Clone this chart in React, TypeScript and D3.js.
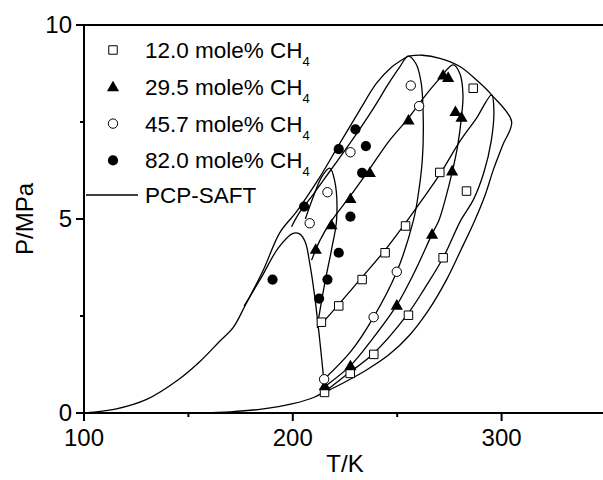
import React from "react";
import * as d3 from "d3";

// experimental points [T/K, P/MPa]
const mole120 = [
  [215.2, 0.53], [213.7, 2.34], [222.0, 2.76], [227.5, 1.02], [233.2, 3.44],
  [238.8, 1.51], [244.2, 4.13], [254.0, 4.82], [255.4, 2.52], [270.4, 6.2],
  [272.0, 4.0], [283.2, 5.72], [286.4, 8.37],
];
const mole295 = [
  [215.3, 0.7], [227.6, 1.22], [249.8, 2.78], [266.7, 4.61], [276.3, 6.24],
  [277.9, 7.77], [280.8, 7.62], [272.0, 8.71], [274.4, 8.65], [255.4, 7.55],
  [236.9, 6.2], [227.6, 5.53], [218.5, 4.85], [211.0, 4.22],
];
const mole457 = [
  [215.0, 0.87], [238.7, 2.47], [249.8, 3.64], [260.5, 7.91], [256.5, 8.44],
  [227.6, 6.72], [216.6, 5.69], [208.1, 4.89],
];
const mole820 = [
  [190.3, 3.44], [212.6, 2.95], [216.6, 3.44], [222.0, 4.13], [227.6, 5.06],
  [233.2, 6.19], [222.0, 6.8], [235.0, 6.88], [230.0, 7.31], [205.4, 5.32],
];

// PCP-SAFT curves
const curveOuterLeft = [
  [100, 0], [115, 0.1], [130, 0.35], [145, 0.85], [155.4, 1.32], [165, 1.85],
  [171.4, 2.2], [177, 2.75], [186, 3.7], [193.8, 4.65], [201.8, 5.19],
  [212, 6.0], [222.5, 6.95], [232, 7.8], [240.1, 8.5], [247, 8.9], [255.3, 9.2],
];
const curveOuterRight = [
  [255.3, 9.2], [262, 9.22], [270.4, 9.14], [280, 8.93], [288, 8.58],
  [295.2, 8.2], [304.8, 7.51], [300.5, 6.9], [296, 6.26], [292, 5.6],
  [287.2, 4.97], [280.5, 4.2], [273.6, 3.43], [265, 2.65], [256, 2.01],
  [246, 1.5], [235.3, 1.11], [225, 0.8], [215.5, 0.54],
];
const curveBottom = [
  [155, 0], [170, 0.03], [185, 0.1], [200, 0.24], [210, 0.4], [215.3, 0.55],
];
const curveThreePhase = [
  [176.7, 2.76], [185, 3.5], [193, 4.25], [200.1, 4.63], [203.4, 4.61],
  [206, 4.4], [208.1, 3.86], [210.5, 3.0], [212.9, 1.88], [215.3, 0.6],
];
const curveLobe = [
  [206, 5.0], [210, 5.6], [214, 6.1], [217.7, 6.31], [220, 6.0], [221, 5.0],
  [218.5, 4.2], [215.5, 3.4], [213.5, 2.8], [211.8, 2.25],
];
const curve457 = [
  [199.4, 4.8], [203, 5.15], [210, 5.65], [218, 6.25], [228, 7.0], [238, 7.8],
  [246, 8.5], [251, 8.9], [255.3, 9.2], [259, 9.0], [261.5, 8.5], [262.5, 7.5],
  [262, 6.5], [260, 5.6], [257.8, 4.97], [249.8, 3.64], [238.7, 2.47],
  [228, 1.6], [215, 0.87],
];
const curve295 = [
  [209, 3.94], [213, 4.45], [218.5, 4.95], [227.6, 5.6], [236.9, 6.3],
  [246, 7.0], [255.4, 7.6], [263, 8.15], [270, 8.6], [276.8, 8.97],
  [280, 8.75], [281.5, 8.2], [280.8, 7.64], [279, 6.9], [276.3, 6.2],
  [273, 5.5], [270, 4.97], [266.7, 4.61], [258, 3.6], [249.8, 2.78],
  [238, 1.9], [227.6, 1.22], [215.3, 0.68],
];
const curve120 = [
  [211.5, 2.2], [213.7, 2.3], [222, 2.8], [233.2, 3.5], [244.2, 4.2],
  [254, 4.9], [262, 5.5], [270.4, 6.15], [280, 7.0], [288, 7.6], [295.2, 8.2],
  [296.3, 7.8], [295, 7.0], [291.5, 6.2], [286.5, 5.5], [280.5, 4.97],
  [272, 4.0], [263, 3.2], [255, 2.55], [238, 1.5], [226, 1.0], [215.3, 0.55],
];
const curves = [
  curveOuterLeft, curveOuterRight, curveBottom, curveThreePhase,
  curveLobe, curve457, curve295, curve120,
];

const xTicks = [100, 200, 300];
const xMinor = [150, 250];
const yTicks = [0, 5, 10];
const yMinor = [2.5, 7.5];

const legend = ["12.0", "29.5", "45.7", "82.0"];

const font = "'Liberation Sans', Arial, sans-serif";

const x = d3.scaleLinear().domain([100, 350]).range([84, 606]);
const y = d3.scaleLinear().domain([0, 10]).range([413, 25]);

const line = d3
  .line<number[]>()
  .x((d) => x(d[0]))
  .y((d) => y(d[1]))
  .curve(d3.curveCatmullRom.alpha(0.5));

const squarePath = d3.symbol().type(d3.symbolSquare).size(72)()!;
const trianglePath = d3.symbol().type(d3.symbolTriangle).size(64)()!;

const Marker = ({ kind, cx, cy }: { kind: number; cx: number; cy: number }) => {
  if (kind === 0)
    return (
      <path d={squarePath} transform={`translate(${cx},${cy})`} fill="white" stroke="black" strokeWidth={1} />
    );
  if (kind === 1)
    return <path d={trianglePath} transform={`translate(${cx},${cy + 1})`} fill="black" />;
  if (kind === 2)
    return <circle cx={cx} cy={cy} r={4.7} fill="white" stroke="black" strokeWidth={1} />;
  return <circle cx={cx} cy={cy} r={5.1} fill="black" />;
};

export default function App() {
  const series = [mole120, mole295, mole457, mole820];
  return (
    <div style={{ position: "absolute", left: 0, top: 0 }}>
      <svg width={603} height={480} style={{ display: "block", background: "white" }}>
        {curves.map((c, i) => (
          <path key={i} d={line(c)!} fill="none" stroke="black" strokeWidth={1.3} />
        ))}

        {series.map((s, k) =>
          s.map((d, i) => <Marker key={`${k}-${i}`} kind={k} cx={x(d[0])} cy={y(d[1])} />)
        )}

        {/* frame */}
        <line x1={x(100)} x2={603} y1={y(10)} y2={y(10)} stroke="black" strokeWidth={2} />
        <line x1={x(100)} x2={603} y1={y(0)} y2={y(0)} stroke="black" strokeWidth={2} />
        <line x1={x(100)} x2={x(100)} y1={y(10)} y2={y(0)} stroke="black" strokeWidth={2} />

        {xTicks.map((t) => (
          <g key={t}>
            <line x1={x(t)} x2={x(t)} y1={y(0)} y2={y(0) + 8} stroke="black" strokeWidth={2} />
            <text x={x(t)} y={y(0) + 33} textAnchor="middle" fontFamily={font} fontSize={24}>
              {t}
            </text>
          </g>
        ))}
        {xMinor.map((t) => (
          <line key={t} x1={x(t)} x2={x(t)} y1={y(0)} y2={y(0) + 4} stroke="black" strokeWidth={2} />
        ))}
        {yTicks.map((t) => (
          <g key={t}>
            <line x1={x(100) - 8} x2={x(100)} y1={y(t)} y2={y(t)} stroke="black" strokeWidth={2} />
            <text x={x(100) - 12} y={y(t) + 8} textAnchor="end" fontFamily={font} fontSize={24}>
              {t}
            </text>
          </g>
        ))}
        {yMinor.map((t) => (
          <line key={t} x1={x(100) - 4} x2={x(100)} y1={y(t)} y2={y(t)} stroke="black" strokeWidth={2} />
        ))}

        <text x={x(225)} y={472} textAnchor="middle" fontFamily={font} fontSize={24}>
          T/K
        </text>
        <text
          transform={`translate(33,${y(5)}) rotate(-90)`}
          textAnchor="middle"
          fontFamily={font}
          fontSize={24}
        >
          P/MPa
        </text>

        {/* legend */}
        {legend.map((l, i) => {
          const ly = 50 + i * 36.8;
          return (
            <g key={l}>
              <Marker kind={i} cx={113} cy={ly} />
              <text x={145} y={ly + 8} fontFamily={font} fontSize={22.5}>
                {l} mole% CH
                <tspan fontSize={13} dy={8}>4</tspan>
              </text>
            </g>
          );
        })}
        <line x1={86} x2={138} y1={195} y2={195} stroke="black" strokeWidth={1.3} />
        <text x={145} y={203} fontFamily={font} fontSize={22.5}>
          PCP-SAFT
        </text>
      </svg>
    </div>
  );
}
